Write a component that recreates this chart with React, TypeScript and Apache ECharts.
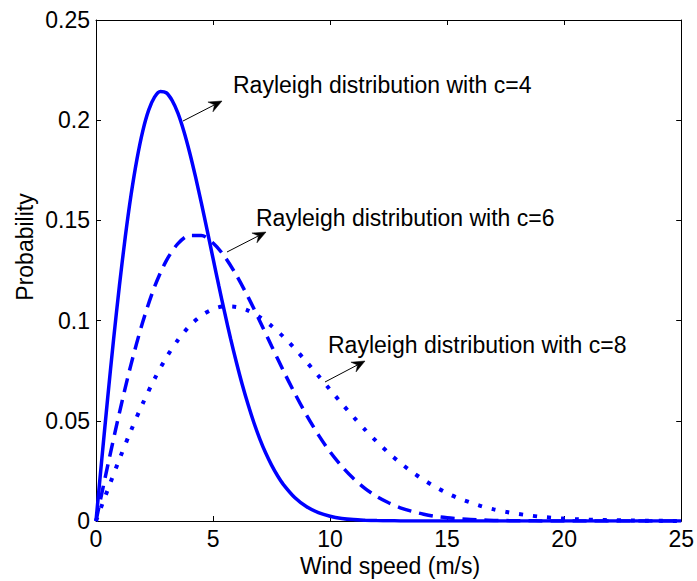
import React, { useEffect, useRef } from "react";
import * as echarts from "echarts";

// Wind speed sample points (m/s), step 0.5 from 0 to 25
const windSpeed: number[] = [
  0, 0.5, 1, 1.5, 2, 2.5, 3, 3.5, 4, 4.5, 5, 5.5, 6, 6.5, 7, 7.5, 8, 8.5, 9, 9.5,
  10, 10.5, 11, 11.5, 12, 12.5, 13, 13.5, 14, 14.5, 15, 15.5, 16, 16.5, 17, 17.5,
  18, 18.5, 19, 19.5, 20, 20.5, 21, 21.5, 22, 22.5, 23, 23.5, 24, 24.5, 25,
];

// Finer sampling for the steep c=4 curve: step 0.25 up to 8, then 0.5
const windSpeedFine: number[] = [
  0, 0.25, 0.5, 0.75, 1, 1.25, 1.5, 1.75, 2, 2.25, 2.5, 2.75, 3, 3.25, 3.5, 3.75,
  4, 4.25, 4.5, 4.75, 5, 5.25, 5.5, 5.75, 6, 6.25, 6.5, 6.75, 7, 7.25, 7.5, 7.75, 8,
  8.5, 9, 9.5, 10, 10.5, 11, 11.5, 12, 12.5, 13, 13.5, 14, 14.5, 15, 15.5, 16, 16.5,
  17, 17.5, 18, 18.5, 19, 19.5, 20, 20.5, 21, 21.5, 22, 22.5, 23, 23.5, 24, 24.5, 25,
];

const probC4: number[] = [
  0, 0.0311, 0.0615, 0.0905, 0.1174, 0.1417, 0.1629, 0.1806, 0.1947, 0.205, 0.2115,
  0.2143, 0.2137, 0.2099, 0.2035, 0.1946, 0.1839, 0.1718, 0.1587, 0.145, 0.131,
  0.1172, 0.1038, 0.091, 0.0791, 0.068, 0.058, 0.0489, 0.0409, 0.0339, 0.0279,
  0.0227, 0.0183,
  0.0116, 0.0071, 0.0042, 0.0024, 0.0013, 0.0007, 0.0004, 0.0002, 0.0001, 0.00004,
  0, 0, 0, 0, 0, 0, 0, 0, 0, 0, 0, 0, 0, 0, 0, 0, 0, 0, 0, 0, 0, 0, 0, 0,
];

const probC6: number[] = [
  0, 0.0276, 0.054, 0.0783, 0.0994, 0.1168, 0.1298, 0.1384, 0.1425, 0.1425, 0.1387,
  0.1319, 0.1226, 0.1117, 0.0997, 0.0873, 0.0751, 0.0635, 0.0527, 0.043, 0.0345,
  0.0273, 0.0212, 0.0162, 0.0122, 0.0091, 0.0066, 0.0048, 0.0034, 0.0023, 0.0016,
  0.0011, 0.0007, 0.0005, 0.0003, 0.0002, 0.0001, 0.00008, 0.00005, 0.00003,
  0.00002, 0, 0, 0, 0, 0, 0, 0, 0, 0, 0,
];

const probC8: number[] = [
  0, 0.0156, 0.0308, 0.0453, 0.0587, 0.0709, 0.0815, 0.0903, 0.0974, 0.1025, 0.1057,
  0.1071, 0.1068, 0.105, 0.1017, 0.0973, 0.092, 0.0859, 0.0793, 0.0725, 0.0655,
  0.0586, 0.0519, 0.0455, 0.0395, 0.034, 0.029, 0.0245, 0.0205, 0.017, 0.0139,
  0.0113, 0.0092, 0.0073, 0.0058, 0.0046, 0.0036, 0.0028, 0.0021, 0.0016, 0.0012,
  0.0009, 0.0007, 0.0005, 0.0004, 0.0003, 0.0002, 0.00013, 0.00009, 0.00006, 0.00004,
];

const annotations = [
  { text: "Rayleigh distribution with c=4", x: 233, y: 84.5, from: [183, 121], to: [222, 101] },
  { text: "Rayleigh distribution with c=6", x: 256, y: 217.5, from: [227, 252], to: [266, 232] },
  { text: "Rayleigh distribution with c=8", x: 328, y: 345, from: [325, 382], to: [365, 361] },
];

const FONT = "'Liberation Sans', Arial, sans-serif";
const FS = 23;

function arrowHead(from: number[], to: number[]) {
  const dx = to[0] - from[0];
  const dy = to[1] - from[1];
  const len = Math.sqrt(dx * dx + dy * dy);
  const ux = dx / len;
  const uy = dy / len;
  const nx = -uy;
  const ny = ux;
  const L = 13;
  const W = 5.5;
  return [
    [to[0], to[1]],
    [to[0] - L * ux + W * nx, to[1] - L * uy + W * ny],
    [to[0] - 0.65 * L * ux, to[1] - 0.65 * L * uy],
    [to[0] - L * ux - W * nx, to[1] - L * uy - W * ny],
  ];
}

export default function App() {
  const ref = useRef<HTMLDivElement>(null);
  useEffect(() => {
    if (!ref.current) return;
    const chart = echarts.init(ref.current, null, { renderer: "svg" });
    const mk = (xs: number[], vals: number[]) => xs.map((x, i) => [x, vals[i]]);
    const axisCommon = {
      axisLine: { show: true, onZero: false, lineStyle: { color: "#000", width: 1 } },
      axisTick: { show: true, inside: true, length: 5, lineStyle: { color: "#000" } },
      splitLine: { show: false },
    };
    const graphics: any[] = [];
    annotations.forEach((a) => {
      graphics.push({
        type: "text",
        x: a.x,
        y: a.y,
        style: { text: a.text, fontSize: FS, fontFamily: FONT, fill: "#000", align: "left", verticalAlign: "middle" },
      });
      const h = arrowHead(a.from, a.to);
      const back = h[2];
      graphics.push({
        type: "line",
        shape: { x1: a.from[0], y1: a.from[1], x2: back[0], y2: back[1] },
        style: { stroke: "#000", lineWidth: 1 },
      });
      graphics.push({
        type: "polygon",
        shape: { points: h },
        style: { fill: "#000", stroke: "#000", lineWidth: 0.5 },
      });
    });
    graphics.push({
      type: "text",
      x: 25,
      y: 247,
      rotation: Math.PI / 2,
      style: { text: "Probability", fontSize: FS, fontFamily: FONT, fill: "#000", align: "center", verticalAlign: "middle" },
    });
    graphics.push({
      type: "text",
      x: 390,
      y: 566,
      style: { text: "Wind speed (m/s)", fontSize: FS, fontFamily: FONT, fill: "#000", align: "center", verticalAlign: "middle" },
    });
    chart.setOption({
      animation: false,
      backgroundColor: "#fff",
      grid: { left: 96, top: 20, width: 588, height: 501, containLabel: false },
      xAxis: [
        {
          type: "value",
          min: 0,
          max: 25,
          interval: 5,
          position: "bottom",
          ...axisCommon,
          axisLabel: { show: true, fontSize: FS, fontFamily: FONT, color: "#000", margin: 6 },
        },
        {
          type: "value",
          min: 0,
          max: 25,
          interval: 5,
          position: "top",
          ...axisCommon,
          axisLabel: { show: false },
        },
      ],
      yAxis: [
        {
          type: "value",
          min: 0,
          max: 0.25,
          interval: 0.05,
          position: "left",
          ...axisCommon,
          axisLabel: { show: true, fontSize: FS, fontFamily: FONT, color: "#000", margin: 6 },
        },
        {
          type: "value",
          min: 0,
          max: 0.25,
          interval: 0.05,
          position: "right",
          ...axisCommon,
          axisLabel: { show: false },
        },
      ],
      series: [
        {
          type: "line",
          data: mk(windSpeedFine, probC4),
          smooth: 0.3,
          showSymbol: false,
          lineStyle: { color: "#0000ff", width: 3.5, type: "solid" },
        },
        {
          type: "line",
          data: mk(windSpeed, probC6),
          smooth: 0.3,
          showSymbol: false,
          lineStyle: { color: "#0000ff", width: 3.5, type: [14, 8], cap: "butt" },
        },
        {
          type: "line",
          data: mk(windSpeed, probC8),
          smooth: 0.3,
          showSymbol: false,
          lineStyle: { color: "#0000ff", width: 4, type: [4, 10], cap: "butt" },
        },
      ],
      graphic: graphics,
    });
    return () => chart.dispose();
  }, []);
  return (
    <div
      ref={ref}
      style={{ position: "absolute", left: 0, top: 0, width: 697, height: 581, background: "#fff" }}
    />
  );
}
